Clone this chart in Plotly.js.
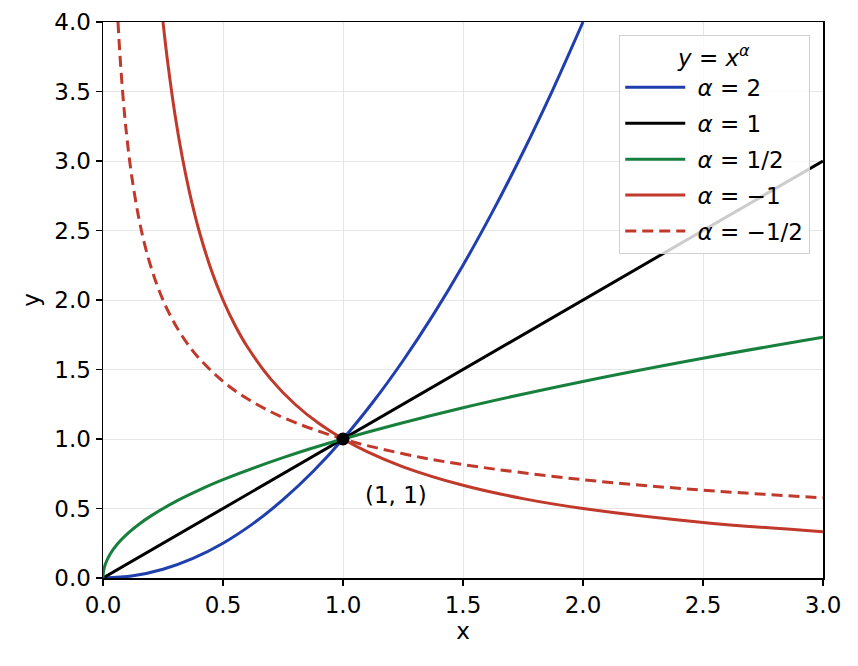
<!DOCTYPE html>
<html>
<head>
<meta charset="utf-8">
<script src="https://cdn.plot.ly/plotly-3.0.1.min.js"></script>
<style>
  html, body { margin: 0; padding: 0; background: #fff; }
  #chart { width: 858px; height: 666px; }
</style>
</head>
<body>
<div id="chart"></div>
<script>
// y = x^2
var xSq = [0, 0.125, 0.25, 0.375, 0.5, 0.625, 0.75, 0.875, 1, 1.125, 1.25, 1.375, 1.5, 1.625, 1.75, 1.875, 2];
var ySq = [0, 0.016, 0.063, 0.141, 0.25, 0.391, 0.563, 0.766, 1, 1.266, 1.563, 1.891, 2.25, 2.641, 3.063, 3.516, 4];

// y = x
var xLin = [0, 3];
var yLin = [0, 3];

// y = x^(1/2)
var xSqrt = [0, 0.002, 0.01, 0.03, 0.06, 0.1, 0.15, 0.2, 0.3, 0.4, 0.5, 0.75, 1, 1.5, 2, 2.5, 3];
var ySqrt = [0, 0.045, 0.1, 0.173, 0.245, 0.316, 0.387, 0.447, 0.548, 0.632, 0.707, 0.866, 1, 1.225, 1.414, 1.581, 1.732];

// y = x^-1
var xInv = [0.25, 0.27, 0.3, 0.33, 0.36, 0.4, 0.45, 0.5, 0.55, 0.6, 0.7, 0.8, 0.9, 1, 1.1, 1.25, 1.5, 1.75, 2, 2.5, 3];
var yInv = [4, 3.704, 3.333, 3.030, 2.778, 2.5, 2.222, 2, 1.818, 1.667, 1.429, 1.25, 1.111, 1, 0.909, 0.8, 0.667, 0.571, 0.5, 0.4, 0.333];

// y = x^-1/2
var xInvSqrt = [0.0625, 0.07, 0.08, 0.09, 0.1, 0.12, 0.15, 0.18, 0.22, 0.26, 0.3, 0.35, 0.4, 0.5, 0.6, 0.75, 1, 1.25, 1.5, 2, 2.5, 3];
var yInvSqrt = [4, 3.780, 3.536, 3.333, 3.162, 2.887, 2.582, 2.357, 2.132, 1.961, 1.826, 1.690, 1.581, 1.414, 1.291, 1.155, 1, 0.894, 0.816, 0.707, 0.632, 0.577];

var ptX = [1];
var ptY = [1];

var blue = '#1f3fae';
var green = '#17803d';
var red = '#c0392b';

var traces = [
  { x: xSq, y: ySq, mode: 'lines', type: 'scatter', name: '&nbsp;<i>α</i> = 2', legendgroup: 'a',
    line: { color: blue, width: 3, shape: 'spline' } },
  { x: xLin, y: yLin, mode: 'lines', type: 'scatter', name: '&nbsp;<i>α</i> = 1', legendgroup: 'b',
    line: { color: '#000000', width: 3 } },
  { x: xSqrt, y: ySqrt, mode: 'lines', type: 'scatter', name: '&nbsp;<i>α</i> = 1/2', legendgroup: 'c',
    line: { color: green, width: 3, shape: 'spline' } },
  { x: xInv, y: yInv, mode: 'lines', type: 'scatter', name: '&nbsp;<i>α</i> = −1', legendgroup: 'd',
    line: { color: red, width: 3, shape: 'spline' } },
  { x: xInvSqrt, y: yInvSqrt, mode: 'lines', type: 'scatter', name: '&nbsp;<i>α</i> = −1/2', legendgroup: 'e',
    line: { color: red, width: 3, dash: '11px,6px', shape: 'spline' } },
  { x: ptX, y: ptY, mode: 'markers', type: 'scatter', showlegend: false,
    marker: { color: '#000000', size: 13 } }
];

var axisFont = { family: 'DejaVu Sans', size: 23, color: '#000' };

var layout = {
  width: 858,
  height: 666,
  margin: { l: 103, r: 35, t: 22, b: 88 },
  paper_bgcolor: '#fff',
  plot_bgcolor: '#fff',
  font: { family: 'DejaVu Sans', size: 23, color: '#000' },
  showlegend: true,
  xaxis: {
    range: [0, 3],
    dtick: 0.5,
    tickformat: '.1f',
    ticks: 'outside',
    ticklen: 6,
    tickwidth: 1.3,
    tickcolor: '#000',
    showline: true,
    linecolor: '#000',
    linewidth: 1.5,
    mirror: true,
    showgrid: true,
    gridcolor: '#e6e6e6',
    zeroline: false,
    tickfont: axisFont,
    title: { text: 'x', font: axisFont, standoff: 6 }
  },
  yaxis: {
    range: [0, 4],
    dtick: 0.5,
    tickformat: '.1f',
    ticks: 'outside',
    ticklen: 6,
    tickwidth: 1.3,
    tickcolor: '#000',
    showline: true,
    linecolor: '#000',
    linewidth: 1.5,
    mirror: true,
    showgrid: true,
    gridcolor: '#e6e6e6',
    zeroline: false,
    tickfont: axisFont,
    title: { text: 'y', font: axisFont, standoff: 8 }
  },
  legend: {
    x: 0.982,
    y: 0.977,
    xanchor: 'right',
    yanchor: 'top',
    bgcolor: 'rgba(255,255,255,0.8)',
    bordercolor: '#d0d0d0',
    borderwidth: 1.2,
    traceorder: 'grouped',
    tracegroupgap: 3,
    font: { family: 'DejaVu Sans', size: 23, color: '#000' },
    title: { text: '<i>y</i> = <i>x</i><sup><i>α</i></sup>', side: 'top center',
             font: { family: 'DejaVu Sans', size: 23, color: '#000' } },
    itemwidth: 60
  },
  annotations: [
    { x: 1.22, y: 0.6, xref: 'x', yref: 'y', text: '(1, 1)', showarrow: false,
      font: { family: 'DejaVu Sans', size: 23, color: '#000' } }
  ]
};

Plotly.newPlot('chart', traces, layout, { displayModeBar: false, staticPlot: true });
</script>
</body>
</html>
